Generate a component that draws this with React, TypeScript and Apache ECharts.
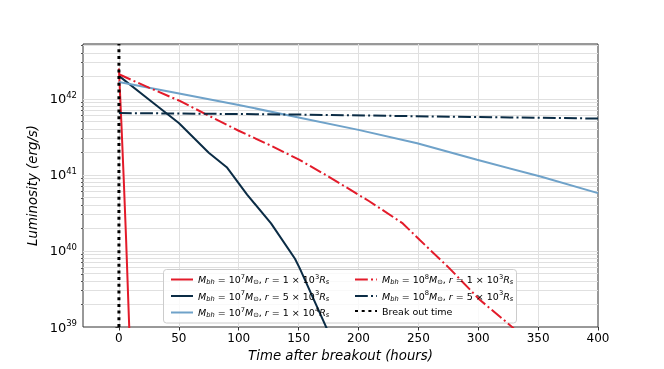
import React, { useEffect, useRef } from "react";
import * as echarts from "echarts";

// ---- data (time in hours, luminosity in erg/s) ----
const tRedSolid = [0, 2, 4, 6, 8, 10];
const lRedSolid = [2.5e42, 5.0e41, 8.9e40, 1.4e40, 1.8e39, 2.5e38];

const tNavySolid = [0, 25, 50, 75, 90, 107, 127, 147, 151, 175];
const lNavySolid = [2.0e42, 9.8e41, 4.8e41, 1.95e41, 1.26e41, 5.5e40, 2.3e40, 7.9e39, 5.9e39, 8.5e38];

const tBlueSolid = [0, 47, 100, 152, 200, 249, 299, 352, 400];
const lBlueSolid = [1.66e42, 1.2e42, 8.3e41, 5.6e41, 3.9e41, 2.6e41, 1.58e41, 9.5e40, 5.75e40];

const tRedDash = [0, 25, 50, 75, 100, 125, 150, 175, 209, 237, 251, 276, 301, 329, 340];
const lRedDash = [2.1e42, 1.4e42, 9.5e41, 6.0e41, 3.8e41, 2.5e41, 1.6e41, 9.5e40, 4.5e40, 2.3e40, 1.4e40, 5.9e39, 2.3e39, 9.8e38, 6.3e38];

const tNavyDash = [0, 150, 300, 400];
const lNavyDash = [6.5e41, 6.2e41, 5.75e41, 5.5e41];

const tBreak = [0, 0];
const lBreak = [1e39, 5.25e42];

const xTicks = [0, 50, 100, 150, 200, 250, 300, 350, 400];
const yMajor = [39, 40, 41, 42];

const F = "DejaVu Sans";
const RED = "#e31b2a";
const NAVY = "#0b2c45";
const BLUE = "#6fa2c9";

const legendText: Record<string, string> = {
  a1: "{i|M}{is|bh}{n| = 10}{p|7}{i|M}{ns|⊙}{n|, }{i|r}{n| = 1 × 10}{p|3}{i|R}{is|s}",
  a2: "{i|M}{is|bh}{n| = 10}{p|7}{i|M}{ns|⊙}{n|, }{i|r}{n| = 5 × 10}{p|3}{i|R}{is|s}",
  a3: "{i|M}{is|bh}{n| = 10}{p|7}{i|M}{ns|⊙}{n|, }{i|r}{n| = 1 × 10}{p|4}{i|R}{is|s}",
  b1: "{i|M}{is|bh}{n| = 10}{p|8}{i|M}{ns|⊙}{n|, }{i|r}{n| = 1 × 10}{p|3}{i|R}{is|s}",
  b2: "{i|M}{is|bh}{n| = 10}{p|8}{i|M}{ns|⊙}{n|, }{i|r}{n| = 5 × 10}{p|3}{i|R}{is|s}",
  brk: "{n|Break out time}",
};

const toData = (t: number[], l: number[]) => t.map((v, i) => [v, Math.log10(l[i])]);

export default function App() {
  const ref = useRef<HTMLDivElement>(null);
  useEffect(() => {
    if (!ref.current) return;
    const chart = echarts.init(ref.current, undefined, { renderer: "svg" });
    const yMin = 39;
    const yMax = Math.log10(lBreak[1]);
    const minorVals: number[] = [];
    const gridY: number[] = [];
    for (let n = 39; n <= 42; n++) {
      for (let k = 1; k <= 9; k++) {
        const v = Math.log10(k * Math.pow(10, n));
        if (v > yMin + 1e-6 && v < yMax - 1e-6) {
          gridY.push(v);
          if (k > 1) minorVals.push(v);
        }
      }
    }
    const legendRich = {
      n: { fontSize: 9.5, fontFamily: F, color: "#000", lineHeight: 14 },
      i: { fontSize: 9.5, fontFamily: F, fontStyle: "italic", color: "#000", lineHeight: 14 },
      is: { fontSize: 6.7, fontFamily: F, fontStyle: "italic", color: "#000", lineHeight: 14, padding: [5, 0, 0, 0] },
      ns: { fontSize: 6.7, fontFamily: F, color: "#000", lineHeight: 14, padding: [5, 0, 0, 0] },
      p: { fontSize: 6.7, fontFamily: F, color: "#000", lineHeight: 14, padding: [0, 0, 6, 0] },
    };
    const legendCommon = {
      orient: "vertical",
      itemWidth: 22,
      itemHeight: 10,
      itemGap: 3.5,
      z: 4,
      selectedMode: false,
      itemStyle: { opacity: 0, borderWidth: 0 },
      formatter: (name: string) => legendText[name],
      textStyle: { rich: legendRich, fontFamily: F, fontSize: 9.5 },
    };
    const dashDot = [12.8, 3.2, 2, 3.2];
    const option: any = {
      animation: false,
      grid: { left: 83, right: 66, top: 44, bottom: 42, show: true, borderColor: "#333", borderWidth: 1, backgroundColor: "transparent" },
      xAxis: {
        type: "value",
        min: -30,
        max: 400,
        axisLine: { show: false },
        splitLine: { show: false },
        axisTick: { show: true, customValues: xTicks, length: 3.5, lineStyle: { color: "#333" } },
        axisLabel: { customValues: xTicks, fontSize: 12, fontFamily: F, color: "#000", margin: 5 },
        name: "Time after breakout (hours)",
        nameLocation: "middle",
        nameGap: 13,
        nameTextStyle: { fontSize: 13.3, fontFamily: F, fontStyle: "italic", color: "#000" },
      },
      yAxis: [
        {
          type: "value",
          min: yMin,
          max: yMax,
          axisLine: { show: false },
          splitLine: { show: false },
          axisTick: { show: true, customValues: yMajor, length: 3.5, lineStyle: { color: "#333" } },
          axisLabel: {
            customValues: yMajor,
            margin: 6,
            formatter: (v: number) => `{b|10}{p|${Math.round(v)}}`,
            rich: {
              b: { fontSize: 13, fontFamily: F, color: "#000" },
              p: { fontSize: 8.5, fontFamily: F, color: "#000", padding: [0, 0, 8, 0] },
            },
          },
          name: "Luminosity (erg/s)",
          nameLocation: "middle",
          nameGap: 36,
          nameTextStyle: { fontSize: 13.3, fontFamily: F, fontStyle: "italic", color: "#000" },
        },
        {
          type: "value",
          min: yMin,
          max: yMax,
          position: "left",
          axisLine: { show: false },
          splitLine: { show: false },
          axisLabel: { show: false },
          axisTick: { show: true, customValues: minorVals, length: 2, lineStyle: { color: "#555" } },
        },
      ],
      legend: [
        { ...legendCommon, left: 165, top: 268, data: ["a1", "a2", "a3"] },
        { ...legendCommon, left: 349, top: 268, data: ["b1", "b2", "brk"] },
      ],
      graphic: [
        {
          type: "rect",
          z: 3,
          shape: { x: 163.5, y: 269.5, width: 353, height: 53.5, r: 3 },
          style: { fill: "rgba(255,255,255,0.8)", stroke: "#cccccc", lineWidth: 1 },
        },
      ],
      series: [
        {
          type: "line",
          name: "grid",
          z: 1,
          data: [[-30, 39]],
          symbol: "none",
          lineStyle: { opacity: 0 },
          silent: true,
          markLine: {
            z: 1,
            silent: true,
            symbol: ["none", "none"],
            label: { show: false },
            lineStyle: { color: "#e0e0e0", width: 1, type: "solid" },
            emphasis: { disabled: true },
            data: [
              ...xTicks.filter((v) => v < 400).map((v) => ({ xAxis: v })),
              ...gridY.map((v) => ({ yAxis: v })),
            ],
          },
        },
        { type: "line", name: "a1", data: toData(tRedSolid, lRedSolid), symbol: "none", lineStyle: { color: RED, width: 2 }, itemStyle: { color: RED } },
        { type: "line", name: "a2", data: toData(tNavySolid, lNavySolid), symbol: "none", lineStyle: { color: NAVY, width: 2 }, itemStyle: { color: NAVY } },
        { type: "line", name: "a3", data: toData(tBlueSolid, lBlueSolid), symbol: "none", lineStyle: { color: BLUE, width: 2 }, itemStyle: { color: BLUE } },
        { type: "line", name: "b1", data: toData(tRedDash, lRedDash), symbol: "none", lineStyle: { color: RED, width: 2, type: dashDot }, itemStyle: { color: RED } },
        { type: "line", name: "b2", data: toData(tNavyDash, lNavyDash), symbol: "none", lineStyle: { color: NAVY, width: 2, type: dashDot }, itemStyle: { color: NAVY } },
        { type: "line", name: "brk", data: toData(tBreak, lBreak), symbol: "none", lineStyle: { color: "#000", width: 3, type: [3, 3.7], cap: "butt" }, itemStyle: { color: "#000" } },
      ],
    };
    chart.setOption(option);
    return () => chart.dispose();
  }, []);
  return <div ref={ref} style={{ position: "fixed", left: 0, top: 0, width: 664, height: 369 }} />;
}
